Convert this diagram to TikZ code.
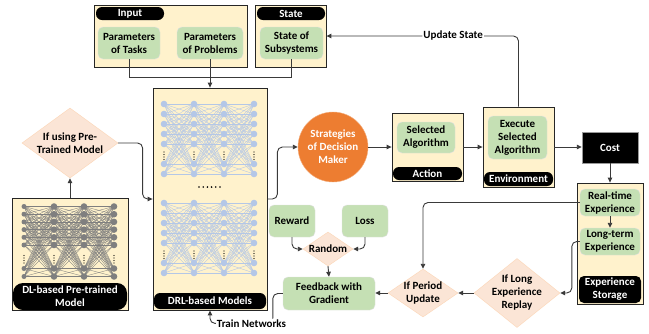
\documentclass[tikz,border=0pt]{standalone}
\usepackage{fontspec}
\setmainfont{Carlito}
\usetikzlibrary{shapes.geometric,arrows.meta}

\definecolor{cream}{HTML}{FFF2CC}
\definecolor{leaf}{HTML}{C5E0B4}
\definecolor{peach}{HTML}{FBE5D6}
\definecolor{tangerine}{HTML}{ED7D31}
\definecolor{neuron}{HTML}{B4C7E7}
\definecolor{ash}{HTML}{7F7F7F}
\definecolor{wire}{HTML}{3A3A3A}

\tikzset{
  every node/.style={font=\bfseries\fontsize{11}{13}\selectfont, align=center},
  panel/.style={draw=black!85, line width=0.8pt, fill=cream},
  leafbox/.style={draw=black!12, fill=leaf, rounded corners=5pt, inner sep=1pt},
  pill/.style={fill=black, text=white, rounded corners=6pt, inner sep=0pt},
  decision/.style={diamond, fill=peach, draw=peach!85!orange, inner sep=0pt},
  link/.style={draw=wire, line width=0.9pt, rounded corners=5pt},
  arrow/.style={link, -{Triangle[length=5pt,width=4.5pt]}},
  lbl/.style={fill=white, inner sep=1pt},
}

\begin{document}
\begin{tikzpicture}[x=1pt,y=-1pt]
	\useasboundingbox[fill=white] (0,0) rectangle (649,333);

	% top panels
	\node[panel, minimum width=153, minimum height=62] (inbox) at (170.5,36) {};
	\node[pill, minimum width=68, minimum height=13] (intitle) at (130,13.5) {Input};
	\node[leafbox, minimum width=62, minimum height=32] (tasks) at (129,43) {Parameters\\of Tasks};
	\node[leafbox, minimum width=66, minimum height=32] (problems) at (210,43) {Parameters\\of Problems};

	\node[panel, minimum width=71, minimum height=62] (statebox) at (290.5,36) {};
	\node[pill, minimum width=68, minimum height=13] (statetitle) at (291,13.5) {State};
	\node[leafbox, minimum width=63, minimum height=32] (subsys) at (291.5,43) {State of\\Subsystems};

	% model panels
	\node[panel, minimum width=114, minimum height=222] (drl) at (210,199) {};
	\node[pill, minimum width=112, minimum height=16] (drltitle) at (210,301) {DRL-based Models};

	\node[panel, minimum width=116, minimum height=112] (dlbox) at (70,254) {};

	% DRL networks
	\foreach \yo in {104,203}{
		\begin{scope}[shift={(164,\yo)}]
			\foreach \xa in {0,30,60}
				\foreach \ya in {0,10,20,30,40,60,70}
					\foreach \yb in {0,10,20,30,40,60,70}
						\draw[neuron, line width=0.35pt] (\xa,\ya) -- (\xa+30,\yb);
			\foreach \xa in {0,30,60,90}{
				\foreach \ya in {0,10,20,30,40,60,70}
					\fill[neuron] (\xa,\ya) circle (3.3pt);
				\foreach \ya in {48,50.5,53,55.5}
					\fill (\xa,\ya) circle (0.6pt);
			}
		\end{scope}
	}
	\foreach \xa in {199,203.2,...,220}
		\fill (\xa,187) circle (0.9pt);

	% pre-trained network
	\begin{scope}[shift={(24,206.5)}]
		\foreach \xa in {0,30,60}
			\foreach \ya in {0,7.7,15.4,23.1,30.8,38.5,62,70}
				\foreach \yb in {0,7.7,15.4,23.1,30.8,38.5,62,70}
					\draw[ash, line width=0.35pt] (\xa,\ya) -- (\xa+30,\yb);
		\foreach \ya in {0,7.7,15.4,23.1,30.8,38.5,62,70}
			\fill[ash] (0,\ya) circle (2.5pt);
		\foreach \xa in {30,60,90}
			\foreach \ya in {0,7.7,15.4,23.1,30.8,38.5,62,70}
				\fill[ash] (\xa,\ya) circle (3.3pt);
		\foreach \xa in {0,30,60,90}
			\foreach \ya in {49,51.5,54,56.5}
				\fill (\xa,\ya) circle (0.6pt);
	\end{scope}
	\node[pill, rounded corners=10pt, minimum width=114, minimum height=27] (dltitle) at (70,296.5) {DL-based Pre-trained\\Model};

	\node[decision, aspect=1.37, minimum width=96, minimum height=70] (pretrain) at (70,143) {If using Pre-\\Trained Model};

	% decision maker and environment
	\node[circle, fill=tangerine, draw=tangerine!60!white, text=white, minimum size=70, inner sep=0pt] (strat) at (333,147) {Strategies\\of Decision\\Maker};

	\node[panel, minimum width=71, minimum height=68] (actbox) at (427.5,147) {};
	\node[leafbox, minimum width=58, minimum height=31] (selalg) at (426,137.5) {Selected\\Algorithm};
	\node[pill, minimum width=69, minimum height=13] (acttitle) at (427.5,173.5) {Action};

	\node[panel, minimum width=71, minimum height=80] (envbox) at (518.5,147) {};
	\node[leafbox, minimum width=59, minimum height=43] (execalg) at (517.5,137.5) {Execute\\Selected\\Algorithm};
	\node[pill, minimum width=69, minimum height=14] (envtitle) at (518.5,179) {Environment};

	\node[fill=black, draw=black!40, text=white, minimum width=56, minimum height=31] (cost) at (610,147.5) {Cost};

	% experience storage
	\node[panel, minimum width=66, minimum height=121] (expbox) at (610,243.5) {};
	\node[leafbox, minimum width=60, minimum height=27] (realtime) at (610,202.5) {Real-time\\Experience};
	\node[leafbox, minimum width=60, minimum height=27] (longterm) at (610,241.5) {Long-term\\Experience};
	\node[pill, rounded corners=5pt, minimum width=62, minimum height=27] (exptitle) at (610,289.5) {Experience\\Storage};

	% training loop
	\node[decision, aspect=1.25, inner sep=-2pt, minimum width=86, minimum height=69] (longd) at (517,293) {If Long\\Experience\\Replay};
	\node[decision, aspect=1.46, inner sep=-0.6pt, minimum width=70, minimum height=48] (period) at (423,293) {If Period\\Update};
	\node[leafbox, minimum width=92, minimum height=33] (feedback) at (329,293.5) {Feedback with\\Gradient};
	\node[leafbox, minimum width=46, minimum height=32] (reward) at (292,221) {Reward};
	\node[leafbox, minimum width=46, minimum height=32] (loss) at (365,221) {Loss};
	\node[decision, aspect=1.47, inner sep=-0.8pt, minimum width=50, minimum height=34] (random) at (328,249) {Random};

	% connectors
	\coordinate (join) at (210,77);
	\draw[link, rounded corners=0pt] (tasks.south) |- (join);
	\draw[link, rounded corners=0pt] (subsys.south) |- (join);
	\draw[arrow] (problems.south) -- (drl.north);
	\draw[arrow] (dlbox.north) -- (pretrain.south);
	\draw[arrow] (pretrain.east) -| ([xshift=-10pt]drl.west) -- (drl.west);
	\draw[arrow] (drl.east) -- ++(10,0) |- (strat.west);
	\draw[arrow] (strat.east) -- (actbox.west);
	\draw[arrow] (actbox.east) -- (envbox.west);
	\draw[arrow] (envbox.east) -- (cost.west |- envbox.east);
	\draw[arrow] (envbox.north) |- node[lbl, pos=0.67] {Update State} (statebox.east);
	\draw[arrow] (cost.south) -- (expbox.north);
	\draw[arrow] (realtime.south) -- (longterm.north);
	\draw[arrow] (realtime.west) -| (period.north);
	\draw[arrow] (longterm.west) -- ++(-8,0) |- (longd.east);
	\draw[arrow] (longd.west) -- (period.east);
	\draw[arrow] (period.west) -- (feedback.east |- period.west);
	\draw[arrow] (reward.south) |- (random.west);
	\draw[arrow] (loss.south) |- (random.east);
	\draw[arrow] (random.south) -- (feedback.north);
	\draw[arrow] (feedback.west) -- ++(-10,0) |- node[lbl, pos=0.67] {Train Networks} ([yshift=-13pt]drl.south) -- (drl.south);
\end{tikzpicture}
\end{document}
